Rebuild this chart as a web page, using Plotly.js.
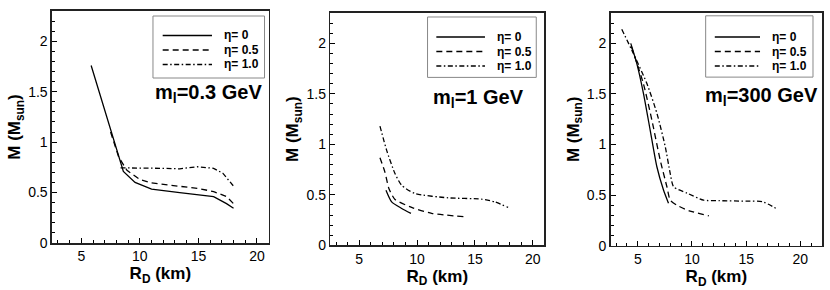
<!DOCTYPE html>
<html>
<head>
<meta charset="utf-8">
<script src="https://cdn.plot.ly/plotly-3.0.1.min.js"></script>
<style>html,body{margin:0;padding:0;background:#fff;}#chart{width:830px;height:290px;}</style>
</head>
<body>
<div id="chart"></div>
<script>
// ---- data ----
const etaLabels = ['η= 0', 'η= 0.5', 'η= 1.0'];
const panelLabels = ['m<sub>l</sub>=0.3 GeV', 'm<sub>l</sub>=1 GeV', 'm<sub>l</sub>=300 GeV'];
const xTitle = 'R<sub>D</sub> (km)';
const yTitle = 'M (M<sub>sun</sub>)';
const xTickVals = [5, 10, 15, 20];
const yTickVals = [0, 0.5, 1, 1.5, 2];

// panel 1: m_l = 0.3 GeV
const p1_eta0_R  = [5.84, 8.59, 9.59, 11.0, 13.4, 16.3, 17.4, 18.0];
const p1_eta0_M  = [1.76, 0.71, 0.60, 0.535, 0.50, 0.46, 0.39, 0.345];
const p1_eta05_R = [7.5, 8.2, 8.9, 10.0, 11.0, 13.4, 15.0, 16.3, 17.4, 18.0];
const p1_eta05_M = [1.10, 0.85, 0.72, 0.63, 0.595, 0.56, 0.54, 0.51, 0.46, 0.39];
const p1_eta1_R  = [8.35, 10.0, 12.0, 13.4, 14.9, 16.3, 17.1, 18.1];
const p1_eta1_M  = [0.745, 0.745, 0.74, 0.735, 0.756, 0.74, 0.69, 0.55];

// panel 2: m_l = 1 GeV
const p2_eta0_R  = [7.31, 7.8, 8.67, 9.47];
const p2_eta0_M  = [0.545, 0.43, 0.365, 0.316];
const p2_eta05_R = [6.79, 7.22, 7.57, 8.09, 9.53, 11.26, 14.13];
const p2_eta05_M = [0.866, 0.725, 0.56, 0.454, 0.375, 0.316, 0.283];
const p2_eta1_R  = [6.79, 7.37, 8.09, 8.67, 9.81, 12.69, 15.57, 16.72, 17.87];
const p2_eta1_M  = [1.18, 0.94, 0.71, 0.594, 0.513, 0.47, 0.457, 0.43, 0.375];

// panel 3: m_l = 300 GeV
const p3_eta0_R  = [4.35, 4.91, 5.52, 6.14, 6.76, 7.37, 7.83];
const p3_eta0_M  = [2.0, 1.80, 1.506, 1.143, 0.78, 0.55, 0.42];
const p3_eta05_R = [4.4, 5.52, 6.3, 7.06, 7.69, 7.99, 8.61, 9.74, 11.55];
const p3_eta05_M = [1.97, 1.60, 1.24, 0.85, 0.58, 0.45, 0.40, 0.345, 0.296];
const p3_eta1_R  = [3.52, 4.59, 5.83, 6.76, 7.53, 7.99, 8.3, 9.54, 11.07, 12.5, 15.0, 16.5, 17.9];
const p3_eta1_M  = [2.14, 1.90, 1.605, 1.31, 0.98, 0.715, 0.583, 0.52, 0.45, 0.445, 0.44, 0.435, 0.36];

// ---- styling ----
const FONT = 'Liberation Sans, Arial, Helvetica, sans-serif';
const dashes = ['solid', '6px,4px', '5px,2.5px,1.5px,2.5px'];
const panels = [
  [[p1_eta0_R, p1_eta0_M], [p1_eta05_R, p1_eta05_M], [p1_eta1_R, p1_eta1_M]],
  [[p2_eta0_R, p2_eta0_M], [p2_eta05_R, p2_eta05_M], [p2_eta1_R, p2_eta1_M]],
  [[p3_eta0_R, p3_eta0_M], [p3_eta05_R, p3_eta05_M], [p3_eta1_R, p3_eta1_M]]
];
const lineShapes = ['linear', 'spline', 'spline'];
const xDomains = [[0.0627, 0.3237], [0.398, 0.6558], [0.7358, 0.9904]];
const yDomains = [[0.1621, 0.9621], [0.1541, 0.9552], [0.1528, 0.9552]];
const xRanges = [[2.5, 21], [2.5, 21], [2.5, 22]];

// legend/label geometry in paper coords
const legendGeom = [
  {box: [0.1843, 0.731, 0.3187, 0.9448], lx: [0.196, 0.2554], tx: 0.2675, rows: [0.8776, 0.8276, 0.7776], lab: [0.1843, 0.6793]},
  {box: [0.5151, 0.7331, 0.6461, 0.9414], lx: [0.5257, 0.5843], tx: 0.5964, rows: [0.8724, 0.8224, 0.7724], lab: [0.5189, 0.661]},
  {box: [0.8502, 0.7341, 0.9795, 0.9455], lx: [0.8612, 0.9157], tx: 0.9276, rows: [0.8724, 0.8224, 0.7724], lab: [0.8464, 0.6676]}
];

const traces = [];
const layout = {
  width: 830, height: 290,
  margin: {l: 0, r: 0, t: 0, b: 0},
  paper_bgcolor: '#fff', plot_bgcolor: '#fff',
  showlegend: false,
  font: {family: FONT, color: '#000', size: 14},
  shapes: [], annotations: []
};

panels.forEach((series, p) => {
  const n = p === 0 ? '' : String(p + 1);
  series.forEach((s, k) => {
    traces.push({
      type: 'scatter', mode: 'lines', x: s[0], y: s[1],
      xaxis: 'x' + n, yaxis: 'y' + n, name: etaLabels[k],
      line: {color: '#000', width: 1.3, dash: dashes[k], shape: lineShapes[p], smoothing: 0.6},
      hoverinfo: 'skip'
    });
  });
  layout['xaxis' + n] = {
    domain: xDomains[p], range: xRanges[p], anchor: 'y' + n,
    tickvals: xTickVals, ticks: 'inside', ticklen: 5, tickwidth: 1, tickcolor: '#000',
    minor: {dtick: 1, tick0: 0, ticks: 'inside', ticklen: 3, tickcolor: '#000', showgrid: false},
    showline: true, linecolor: '#222', linewidth: 1.6, mirror: true,
    showgrid: false, zeroline: false,
    tickfont: {family: FONT, size: 14, color: '#000'},
    title: {text: xTitle, font: {family: FONT, size: 17, color: '#000', weight: 'bold'}, standoff: 3}
  };
  layout['yaxis' + n] = {
    domain: yDomains[p], range: [0, 2.3], anchor: 'x' + n,
    tickvals: yTickVals, ticktext: ['0', '0.5', '1', '1.5', '2'],
    ticks: 'inside', ticklen: 5, tickwidth: 1, tickcolor: '#000',
    minor: {dtick: 0.1, tick0: 0, ticks: 'inside', ticklen: 3, tickcolor: '#000', showgrid: false},
    showline: true, linecolor: '#222', linewidth: 1.6, mirror: true,
    showgrid: false, zeroline: false,
    tickfont: {family: FONT, size: 14, color: '#000'},
    title: {text: yTitle, font: {family: FONT, size: 17, color: '#000', weight: 'bold'}, standoff: 3}
  };

  const g = legendGeom[p];
  layout.shapes.push({type: 'rect', xref: 'paper', yref: 'paper',
    x0: g.box[0], y0: g.box[1], x1: g.box[2], y1: g.box[3],
    line: {color: '#888', width: 1}, fillcolor: '#fff', layer: 'above'});
  etaLabels.forEach((lab, k) => {
    layout.shapes.push({type: 'line', xref: 'paper', yref: 'paper',
      x0: g.lx[0], x1: g.lx[1], y0: g.rows[k], y1: g.rows[k],
      line: {color: '#000', width: 1.3, dash: dashes[k]}, layer: 'above'});
    layout.annotations.push({xref: 'paper', yref: 'paper', x: g.tx, y: g.rows[k],
      xanchor: 'left', yanchor: 'middle', showarrow: false, text: lab,
      font: {family: FONT, size: 12, color: '#000', weight: 'bold'}});
  });
  layout.annotations.push({xref: 'paper', yref: 'paper', x: g.lab[0], y: g.lab[1],
    xanchor: 'left', yanchor: 'middle', showarrow: false, text: panelLabels[p],
    font: {family: FONT, size: 20, color: '#000', weight: 'bold'}});
});

Plotly.newPlot('chart', traces, layout, {staticPlot: true, displayModeBar: false});
</script>
</body>
</html>
